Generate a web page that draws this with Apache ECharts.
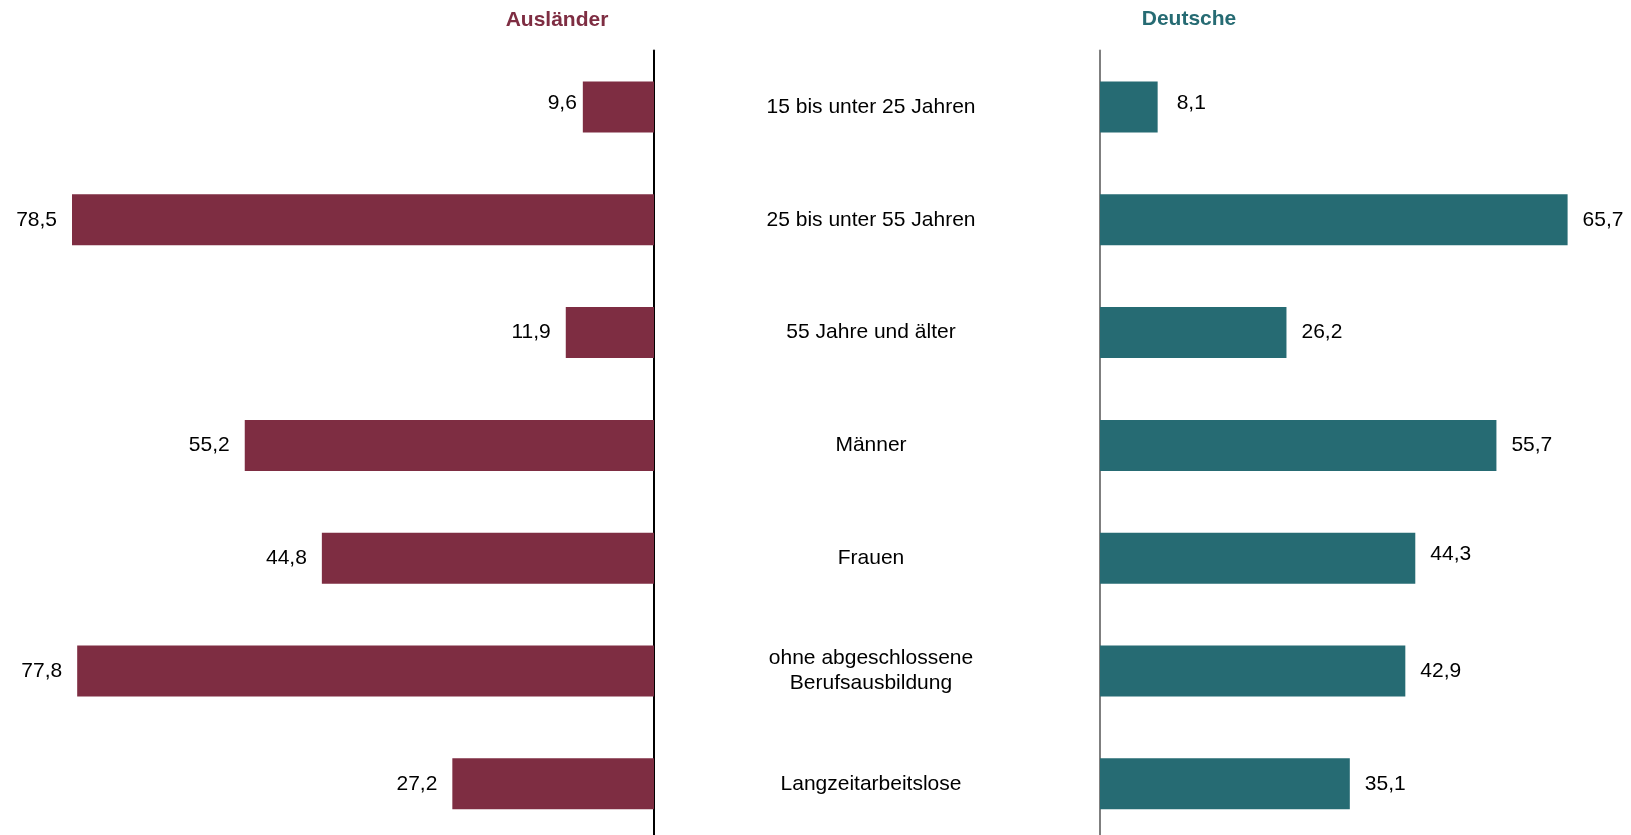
<!DOCTYPE html>
<html>
<head>
<meta charset="utf-8">
<script src="https://cdn.jsdelivr.net/npm/echarts@6/dist/echarts.min.js"></script>
<style>
  html, body { margin: 0; padding: 0; background: #ffffff; }
  #chart { width: 1631px; height: 835px; }
</style>
</head>
<body>
<div id="chart"></div>
<script>
// Groups shown in the middle column, top to bottom
const categories = [
  '15 bis unter 25 Jahren',
  '25 bis unter 55 Jahren',
  '55 Jahre und älter',
  'Männer',
  'Frauen',
  'ohne abgeschlossene\nBerufsausbildung',
  'Langzeitarbeitslose'
];
// Shares in percent
const auslaender = [9.6, 78.5, 11.9, 55.2, 44.8, 77.8, 27.2];
const deutsche = [8.1, 65.7, 26.2, 55.7, 44.3, 42.9, 35.1];
const groupTitles = ['Ausländer', 'Deutsche'];

const COLOR_A = '#7e2d42';
const COLOR_D = '#266b73';
const FONT = '"Liberation Sans", Arial, sans-serif';

const fmt = v => v.toFixed(1).replace('.', ',');

const chart = echarts.init(document.getElementById('chart'), null, { renderer: 'canvas' });

// Short bars get their label nudged slightly upward and spaced individually
const leftData = auslaender.map((v, i) => i === 0
  ? { value: v, label: { distance: 6, offset: [0, -4] } }
  : v);
const rightData = deutsche.map((v, i) => i === 0
  ? { value: v, label: { distance: 19, offset: [0, -4] } }
  : (i === 4 ? { value: v, label: { offset: [0, -4] } } : v));

const valueLabel = {
  show: true,
  color: '#000000',
  fontFamily: FONT,
  fontSize: 21,
  distance: 15,
  formatter: p => fmt(p.value)
};

const GRID_TOP = 50.6;
const GRID_H = 789.6;

chart.setOption({
  animation: false,
  backgroundColor: '#ffffff',
  title: [
    {
      text: groupTitles[0], left: 557, top: 10, textAlign: 'center', padding: 0,
      textStyle: { color: COLOR_A, fontFamily: FONT, fontSize: 21, fontWeight: 'bold' }
    },
    {
      text: groupTitles[1], left: 1189, top: 9, textAlign: 'center', padding: 0,
      textStyle: { color: COLOR_D, fontFamily: FONT, fontSize: 21, fontWeight: 'bold' }
    }
  ],
  grid: [
    { left: 72, right: 977, top: GRID_TOP, height: GRID_H, outerBoundsMode: 'none' },
    { left: 1100, right: 63.4, top: GRID_TOP, height: GRID_H, outerBoundsMode: 'none' }
  ],
  xAxis: [
    {
      gridIndex: 0, type: 'value', min: 0, max: 78.5, inverse: true,
      show: false, splitLine: { show: false }
    },
    {
      gridIndex: 1, type: 'value', min: 0, max: 65.7,
      show: false, splitLine: { show: false }
    }
  ],
  yAxis: [
    {
      gridIndex: 0, type: 'category', data: categories, inverse: true,
      position: 'right',
      axisLine: { show: true, lineStyle: { color: '#000000', width: 2 } },
      axisTick: { show: false },
      axisLabel: { show: false }
    },
    {
      gridIndex: 1, type: 'category', data: categories, inverse: true,
      position: 'left',
      axisLine: { show: true, lineStyle: { color: '#7f7f7f', width: 2 } },
      axisTick: { show: false },
      axisLabel: {
        show: true, align: 'center', margin: 229,
        color: '#000000', fontFamily: FONT, fontSize: 21, lineHeight: 25
      }
    }
  ],
  series: [
    {
      name: groupTitles[0], type: 'bar', xAxisIndex: 0, yAxisIndex: 0,
      data: leftData, barWidth: 51,
      itemStyle: { color: COLOR_A },
      label: Object.assign({ position: 'left' }, valueLabel)
    },
    {
      name: groupTitles[1], type: 'bar', xAxisIndex: 1, yAxisIndex: 1,
      data: rightData, barWidth: 51,
      itemStyle: { color: COLOR_D },
      label: Object.assign({ position: 'right' }, valueLabel)
    }
  ]
});
</script>
</body>
</html>
